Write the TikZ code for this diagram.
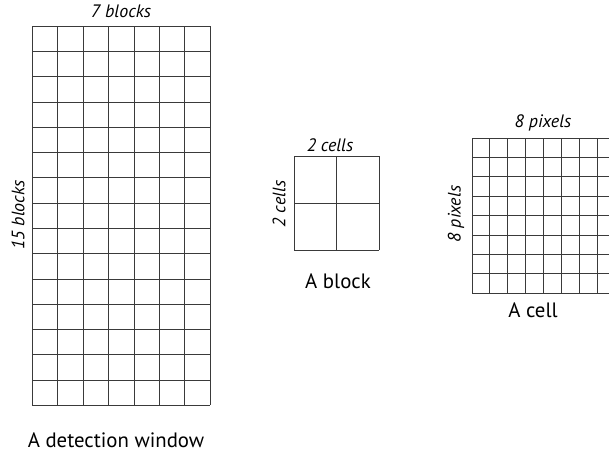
\documentclass[tikz,border=0pt]{standalone}
\usepackage{fontspec}
\setmainfont{PT Sans}
\usetikzlibrary{positioning}
\definecolor{gridcol}{HTML}{3A3A3A}
\tikzset{
    gridline/.style={draw=gridcol, line width=0.65pt},
    caption/.style={font=\fontsize{15.6}{17}\selectfont, inner sep=0pt},
    dimlabel/.style={font=\fontsize{13.5}{15}\selectfont\itshape, inner sep=0pt}
}

\begin{document}
\begin{tikzpicture}[x=0.75pt, y=-0.75pt]
    \useasboundingbox (0,0) rectangle (609,456);
    \clip (0,0) rectangle (609,456);

    % detection window: 7 x 15 blocks
    \foreach \i in {0,...,7}
        \draw [gridline] ({32.3+25.43*\i},26.3) -- ({32.3+25.43*\i},405.3);
    \foreach \j in {0,...,15}
        \draw [gridline] (32.3,{26.3+25.27*\j}) -- (210.3,{26.3+25.27*\j});
    \node [dimlabel] (winTop) at (121,11) {7 blocks};
    \node [dimlabel, rotate=90] (winSide) at (18,215) {15 blocks};
    \node [caption] (winCap) at (116,440) {A detection window};

    % block: 2 x 2 cells
    \foreach \i in {0,1,2}
        \draw [gridline] ({294.3+42.35*\i},156) -- ({294.3+42.35*\i},250);
    \foreach \j in {0,1,2}
        \draw [gridline] (294.3,{156+47*\j}) -- (379,{156+47*\j});
    \node [dimlabel] (blkTop) at (330,145) {2 cells};
    \node [dimlabel, rotate=90] (blkSide) at (279,204) {2 cells};
    \node [caption] (blkCap) at (338,281) {A block};

    % cell: 8 x 8 pixels
    \foreach \i in {0,...,8}
        \draw [gridline] ({472+17.9*\i},138) -- ({472+17.9*\i},293);
    \foreach \j in {0,...,8}
        \draw [gridline] (472,{138+19.4*\j}) -- (615.2,{138+19.4*\j});
    \node [dimlabel] (cellTop) at (543,123) {8 pixels};
    \node [dimlabel, rotate=90] (cellSide) at (456,214) {8 pixels};
    \node [caption] (cellCap) at (533,310) {A cell};
\end{tikzpicture}
\end{document}
